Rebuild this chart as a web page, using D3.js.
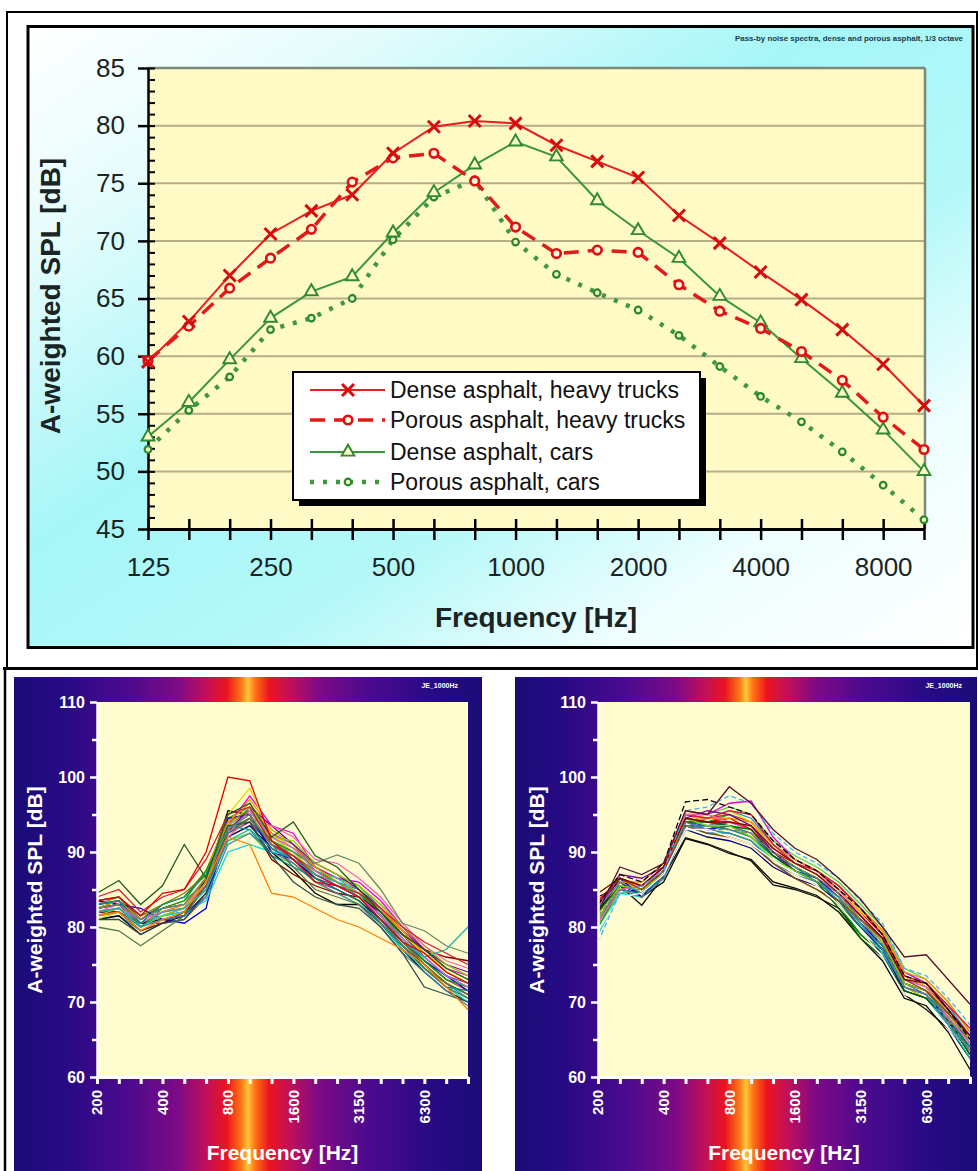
<!DOCTYPE html>
<html><head><meta charset="utf-8">
<script src="https://cdn.jsdelivr.net/npm/d3@7"></script>
<style>
body{margin:0;background:#fff}
svg{display:block}
text{font-family:Arial,"Liberation Sans",sans-serif}
</style>
</head><body>
<svg id="c" width="978" height="1171"></svg>
<script>
// ---------------- DATA ----------------
const bandsTop = ["125","160","200","250","315","400","500","630","800","1000","1250","1600","2000","2500","3150","4000","5000","6300","8000","10000"];
const xLabelsTop = ["125","250","500","1000","2000","4000","8000"];
const yTicksTop = [45,50,55,60,65,70,75,80,85];
const yMinorTop = [45,46,47,48,49,50,51,52,53,54,55,56,57,58,59,60,61,62,63,64,65,66,67,68,69,70,71,72,73,74,75,76,77,78,79,80,81,82,83,84,85];
const denseTrucks  = [59.5,63.0,67.0,70.6,72.6,74.0,77.6,79.9,80.4,80.2,78.3,76.9,75.5,72.2,69.8,67.3,64.9,62.3,59.3,55.7];
const porousTrucks = [59.6,62.6,65.9,68.5,71.0,75.1,77.2,77.6,75.2,71.2,68.9,69.2,69.0,66.2,63.9,62.4,60.4,57.9,54.7,51.9];
const denseCars    = [53.0,56.0,59.7,63.3,65.6,66.9,70.7,74.2,76.6,78.6,77.3,73.5,70.9,68.5,65.2,62.9,59.8,56.8,53.6,50.0];
const porousCars   = [51.9,55.3,58.2,62.3,63.3,65.0,70.1,73.8,75.3,69.9,67.1,65.5,64.0,61.8,59.1,56.5,54.3,51.7,48.8,45.8];
const legendLabels = ["Dense asphalt, heavy trucks","Porous asphalt, heavy trucks","Dense asphalt, cars","Porous asphalt, cars"];
const topNote = "Pass-by noise spectra, dense and porous asphalt, 1/3 octave";

const bandsBottom = ["200","250","315","400","500","630","800","1000","1250","1600","2000","2500","3150","4000","5000","6300","8000","10000"];
const xLabelsBottom = ["200","400","800","1600","3150","6300"];
const yTicksBottom = [60,70,80,90,100,110];
const yMinorBottom = [65,75,85,95,105];
const panelTag = "JE_1000Hz";

const leftSpectra = [
 [82.5,83.0,80.0,81.5,82.0,85.0,93.0,95.5,92.5,91.0,87.5,86.0,85.0,82.0,79.0,76.0,73.5,72.5],
 [81.5,82.0,80.5,80.5,81.0,84.0,92.5,94.0,91.0,89.5,86.5,85.5,84.0,81.5,78.0,75.5,73.0,71.5],
 [83.0,83.5,81.5,82.5,83.5,86.0,94.5,96.0,92.0,90.0,88.0,86.5,85.5,82.5,79.5,76.5,74.5,73.0],
 [82.0,82.0,79.5,81.0,81.5,85.5,93.0,94.5,90.5,88.5,86.0,85.0,83.5,81.0,77.5,75.0,72.5,71.0],
 [82.5,83.0,80.5,82.0,82.5,86.0,94.0,97.0,93.0,91.0,88.0,86.5,85.0,82.5,79.0,76.5,74.0,72.5],
 [81.0,81.5,79.5,80.5,81.0,84.5,92.0,93.5,91.5,90.0,87.0,85.5,84.0,81.0,77.5,74.5,72.5,70.5],
 [83.5,84.0,81.0,83.0,84.0,87.5,94.5,95.0,91.0,89.5,87.5,86.0,84.5,82.0,79.0,76.0,73.5,72.0],
 [82.0,82.5,80.0,81.5,82.0,85.0,91.5,92.5,89.5,88.5,86.0,84.5,83.0,80.5,77.0,74.5,72.0,70.5],
 [82.5,83.5,80.5,82.0,83.0,86.0,93.5,95.5,92.0,90.5,88.5,87.0,85.5,83.0,80.0,77.0,75.0,73.5],
 [81.5,82.5,80.0,81.5,82.5,85.5,92.5,94.0,91.0,89.0,86.5,85.5,84.0,81.5,78.0,75.5,73.0,72.0],
 [81.0,81.5,79.0,80.5,81.5,86.5,95.5,95.0,90.0,87.5,84.5,83.0,83.0,80.5,77.0,74.0,71.5,70.0],
 [83.5,83.0,82.5,81.0,80.5,82.5,94.5,95.0,90.0,89.0,87.0,85.5,84.5,81.5,78.5,75.5,73.5,71.5],
 [82.0,82.5,80.5,81.5,82.5,86.0,93.5,97.5,93.5,92.5,88.0,86.5,86.0,83.5,80.0,77.0,74.5,73.5],
 [81.0,82.0,79.5,81.0,82.0,87.0,95.0,98.5,92.0,90.0,87.0,86.0,84.5,82.0,79.0,76.5,74.5,73.0],
 [82.0,82.5,80.5,81.5,82.0,83.5,90.0,91.0,90.0,89.5,87.5,86.5,84.5,80.5,77.0,74.5,72.0,70.0],
 [82.5,83.5,80.0,82.5,83.5,87.5,93.0,94.5,91.5,90.0,88.0,86.0,84.5,82.0,78.5,75.5,73.0,72.0],
 [83.0,83.5,81.0,82.5,83.0,86.5,92.5,96.0,93.5,91.0,88.5,87.0,85.0,82.5,79.5,77.0,75.0,74.0],
 [82.5,83.0,80.5,81.0,81.5,84.5,92.0,93.5,90.5,89.0,86.5,85.0,83.5,81.0,78.0,75.0,72.5,71.0],
 [82.0,82.0,79.5,80.5,82.0,85.5,93.0,94.0,89.0,87.0,85.5,84.5,84.0,82.0,79.0,77.0,76.0,75.5],
 [81.5,82.5,80.0,81.5,82.5,86.0,93.5,96.0,92.0,91.5,88.5,87.0,85.5,83.0,80.0,77.5,75.0,73.5],
 [82.0,83.0,80.5,82.0,83.0,85.5,92.0,94.5,93.5,92.0,89.0,88.5,86.5,84.0,80.5,77.5,75.5,74.5],
 [83.0,84.0,81.5,83.0,84.5,87.0,94.0,95.5,91.5,89.5,87.5,86.0,84.0,81.5,78.0,75.0,72.5,71.0],
 [81.5,82.0,80.0,81.0,81.5,84.0,91.0,92.5,90.0,88.5,86.0,84.5,83.0,80.0,76.5,74.0,71.5,69.5],
 [82.5,83.5,81.0,82.0,83.0,86.5,94.0,96.5,92.5,90.5,88.0,86.0,84.5,82.5,79.5,76.5,74.0,72.5],
 [83.0,83.5,80.5,83.0,84.0,87.0,93.5,93.0,89.5,88.0,86.5,85.0,83.5,80.5,77.5,74.5,72.0,71.5],
 [82.0,82.5,81.0,82.0,82.5,85.0,92.5,95.5,92.0,90.5,87.5,85.5,84.0,81.5,78.5,76.0,73.5,72.0],
 [84.0,85.0,82.0,84.0,85.0,89.0,95.0,96.0,91.0,89.5,87.0,85.5,84.5,82.5,80.0,78.0,76.5,75.0],
 [81.0,81.0,79.0,80.5,81.0,84.5,93.5,94.0,89.5,86.0,84.0,83.0,82.5,80.0,76.5,72.0,71.0,70.0],
 [80.0,79.5,77.5,79.5,81.5,85.5,92.5,94.5,91.0,88.0,85.0,84.0,83.0,80.5,77.5,74.5,72.0,70.5],
 [82.5,83.0,81.0,82.5,83.0,86.5,93.0,95.0,91.0,90.0,88.5,89.6,88.5,85.0,80.5,79.5,77.5,76.5],
 [82.0,82.5,80.0,82.0,82.5,85.0,91.5,93.0,90.5,89.0,87.0,86.0,84.0,81.0,78.0,76.0,77.0,80.0],
 [81.5,82.0,79.5,81.0,82.0,86.0,92.0,91.0,84.5,84.0,82.5,81.0,80.0,78.5,77.0,75.0,72.0,69.0],
 [84.5,86.2,83.0,85.5,91.0,86.5,95.0,96.5,92.0,94.0,89.5,88.0,85.0,82.0,79.0,77.0,74.5,73.0],
 [83.5,84.0,81.5,84.5,85.0,90.0,100.0,99.5,91.5,89.0,86.0,85.5,84.0,81.0,78.0,76.5,74.0,72.5]
];
const rightSpectra = [
 [82.0,86.0,85.0,87.0,94.0,93.5,94.0,93.0,90.0,88.0,86.5,84.5,81.5,78.5,73.0,72.0,68.5,64.5],
 [81.0,85.5,84.5,87.5,95.0,94.5,95.0,94.0,90.5,88.5,87.0,85.0,82.0,79.0,73.5,72.0,69.0,65.0],
 [82.5,86.5,85.5,88.0,94.5,93.5,93.5,92.5,89.5,87.5,86.0,84.0,80.5,77.5,72.0,71.0,67.5,63.5],
 [80.5,85.0,84.0,86.5,93.5,93.0,94.0,93.0,90.0,88.0,86.5,84.5,81.0,78.0,72.5,71.5,68.0,64.0],
 [83.0,86.0,85.5,87.5,95.0,94.0,93.0,92.0,89.0,87.0,85.5,83.5,80.5,77.0,72.0,70.5,67.5,63.0],
 [81.5,86.0,85.0,87.0,94.0,94.5,95.5,94.5,91.0,89.0,87.5,85.5,82.5,79.5,74.0,72.5,69.5,65.5],
 [82.0,85.5,84.5,87.0,93.5,92.5,92.5,91.5,88.5,86.5,85.0,83.0,80.0,77.0,71.5,70.5,67.0,62.5],
 [80.0,84.5,85.0,87.5,95.0,95.0,96.0,95.0,91.5,89.5,88.0,86.0,83.0,80.0,74.5,73.0,70.0,66.0],
 [82.5,86.5,85.0,87.5,94.5,94.0,94.0,93.0,90.0,88.0,86.5,84.5,81.5,78.0,72.5,71.5,68.0,64.0],
 [81.0,85.0,84.5,86.5,93.5,93.5,93.5,92.5,89.5,87.5,86.0,84.0,81.0,77.5,72.5,71.0,67.5,63.5],
 [82.0,86.0,84.0,86.0,91.8,91.0,89.8,89.0,86.0,85.2,84.2,82.0,78.5,75.5,70.5,69.5,66.0,61.0],
 [84.0,85.5,82.9,86.7,91.9,91.1,90.0,88.8,85.6,85.0,84.0,82.5,79.0,76.5,71.0,69.0,66.5,62.5],
 [83.5,86.0,85.0,87.5,94.5,94.0,94.5,93.0,90.0,88.5,87.5,85.0,82.0,79.0,73.5,72.0,68.5,65.0],
 [81.0,85.5,84.5,87.0,94.0,93.0,93.5,92.0,89.5,87.5,86.5,84.0,80.5,77.5,72.0,71.0,67.5,64.0],
 [80.0,85.0,85.5,87.5,94.5,94.0,95.0,93.5,90.0,88.0,86.5,83.0,79.0,77.0,72.5,71.5,68.0,63.5],
 [82.5,86.5,85.5,88.0,95.5,95.0,96.5,96.8,92.0,89.0,87.5,85.5,82.5,79.5,74.0,72.5,69.0,65.5],
 [79.0,84.5,84.0,86.5,93.5,92.5,92.5,91.5,89.0,87.5,86.0,84.0,80.5,76.5,71.5,70.5,67.0,62.5],
 [81.5,86.0,85.0,87.0,95.5,94.5,95.5,94.0,90.5,88.5,87.0,85.0,82.0,79.5,73.5,72.0,68.5,64.0],
 [82.0,86.5,84.0,87.0,93.0,92.0,91.5,90.5,88.0,86.5,85.5,83.5,80.0,77.0,71.5,70.5,67.5,63.0],
 [82.5,86.0,86.0,88.5,94.0,94.5,94.5,94.0,91.0,89.0,87.5,85.5,82.5,79.5,74.0,73.0,70.0,66.0],
 [80.5,85.0,84.5,86.5,93.5,93.5,93.0,92.0,89.5,88.0,86.0,83.5,80.0,77.5,72.0,71.0,68.0,64.0],
 [83.0,87.0,86.5,88.0,94.5,95.5,95.0,93.5,90.0,87.5,86.0,84.0,81.0,78.0,72.5,71.5,68.5,65.0],
 [82.0,85.5,85.0,87.5,94.0,94.0,93.5,93.0,89.5,87.5,86.0,82.5,78.5,76.0,71.5,70.5,67.5,63.0],
 [83.5,86.5,85.5,88.0,95.0,94.5,95.5,95.0,91.0,88.5,87.5,85.5,82.5,79.0,73.5,72.5,69.5,66.5],
 [81.0,85.5,85.0,87.0,94.5,93.5,93.5,92.0,89.0,87.5,86.0,84.0,81.0,78.0,72.5,71.5,68.5,65.0],
 [80.5,85.0,85.5,87.5,95.0,95.0,94.0,93.5,90.5,88.5,87.0,85.0,81.5,78.5,73.0,72.0,68.0,64.5],
 [82.5,86.0,84.5,87.0,94.0,93.0,92.5,91.5,88.5,87.0,86.0,84.0,80.5,77.0,72.0,71.0,67.0,63.5],
 [83.0,86.5,85.0,87.5,93.5,92.5,92.0,91.0,88.5,86.5,85.0,83.5,81.0,78.5,73.0,71.5,68.5,65.5],
 [84.5,86.5,85.5,88.0,94.5,94.0,94.0,93.5,90.5,88.5,87.0,84.5,81.5,78.5,73.0,72.5,69.0,65.5],
 [81.5,85.0,84.0,86.5,93.5,93.0,93.0,92.5,90.0,88.0,86.5,84.5,81.0,77.5,72.0,71.0,67.5,63.5],
 [79.5,84.0,84.5,87.0,93.0,93.0,92.0,91.0,89.0,87.0,85.5,83.0,79.5,76.0,71.0,70.0,66.5,62.0],
 [78.0,84.5,85.5,87.5,95.5,96.0,97.5,96.5,92.5,90.0,88.5,86.5,83.5,80.5,74.5,73.5,70.5,67.0],
 [83.0,87.0,86.0,88.5,96.7,97.0,96.0,95.0,91.5,89.0,87.5,85.0,82.5,79.0,73.5,72.5,69.0,65.0],
 [82.0,88.0,87.0,88.5,95.5,95.0,98.7,96.5,93.0,90.5,89.0,86.5,83.7,80.0,76.0,76.3,73.0,69.7]
];

// ---------------- STYLES ----------------
const extraColors = ["#3050c0","#c03030","#30a060","#a03090","#d0a000","#2090d0","#705030","#50d050","#e05080","#6060a0"];
const leftColors = extraColors.concat(["#000000","#0000e0","#e000e0","#e8d800","#00d8e0","#00a800","#8000a0","#000080","#800000","#80e000","#ff60b0","#808000","#4682b4","#ff8c00","#008b8b","#c070e0","#dc143c","#2f4f4f","#507850","#6a8a6a","#20b0a0","#ff7f00","#205a20","#e00000"]);
const rightColors = extraColors.concat(["#000000","#101010","#e00000","#0000e0","#00a800","#e000e0","#00d0e0","#e8d800","#000080","#ff8c00","#008b8b","#8000a0","#006400","#dc143c","#80e000","#ff60b0","#4682b4","#8b4513","#800000","#808080","#ffffff","#40b0ff","#000000","#5a1030"]);
const rightDash = [null,null,null,null,null,null,null,null,null,null,
  null,null,null,null,null,null,null,null,null,null,null,null,null,null,null,null,null,null,null,"5 3",null,"5 3","6 3",null];
const FONT = "Arial, 'Liberation Sans', sans-serif";

const svg = d3.select("#c");
const defs = svg.append("defs");

const cg = defs.append("linearGradient").attr("id","cyanBg").attr("x1",0).attr("y1",0).attr("x2",1).attr("y2",1);
[[0,"#ffffff"],[0.18,"#e6fcfc"],[0.42,"#a6f6f8"],[0.62,"#b4f8f8"],[0.8,"#eefefe"],[1,"#ffffff"]]
 .forEach(s=>cg.append("stop").attr("offset",s[0]).attr("stop-color",s[1]));

const hg = defs.append("linearGradient").attr("id","heatBg").attr("x1",0).attr("y1",0).attr("x2",1).attr("y2",0);
[[0,"#1a0c76"],[0.1,"#260a84"],[0.24,"#4a0a8e"],[0.35,"#7e0a86"],[0.41,"#c0105a"],[0.455,"#ec1420"],[0.485,"#ff7414"],[0.5,"#ffc63a"],[0.515,"#ff7414"],[0.545,"#ec1420"],[0.59,"#c0105a"],[0.65,"#7e0a86"],[0.76,"#4a0a8e"],[0.9,"#260a84"],[1,"#1a0c76"]]
 .forEach(s=>hg.append("stop").attr("offset",s[0]).attr("stop-color",s[1]));

// ---------------- TOP CHART ----------------
const gTop = svg.append("g");
gTop.append("rect").attr("x",7).attr("y",12).attr("width",970).attr("height",656)
  .attr("fill","none").attr("stroke","#000").attr("stroke-width",2);
gTop.append("rect").attr("x",28).attr("y",26.5).attr("width",945).attr("height",621)
  .attr("fill","url(#cyanBg)").attr("stroke","#000").attr("stroke-width",3);

const xT = d3.scalePoint().domain(bandsTop).range([148,924]);
const yT = d3.scaleLinear().domain([45,85]).range([529,68]);

gTop.append("rect").attr("x",148).attr("y",yT(85)).attr("width",777).attr("height",yT(45)-yT(85)).attr("fill","#fffac6");

gTop.append("g").selectAll("line").data(yTicksTop.filter(v=>v>45)).join("line")
  .attr("x1",148).attr("x2",925).attr("y1",d=>yT(d)).attr("y2",d=>yT(d))
  .attr("stroke",d=>d===85?"#7c8878":"#b6ae86").attr("stroke-width",d=>d===85?2.5:2);
gTop.append("line").attr("x1",925).attr("x2",925).attr("y1",yT(85)).attr("y2",yT(45))
  .attr("stroke","#7c8878").attr("stroke-width",2.5);

const yAx = gTop.append("g").attr("transform","translate(148,0)")
  .call(d3.axisLeft(yT).tickValues(yTicksTop).tickSize(10).tickSizeOuter(0).tickPadding(13));
yAx.attr("font-size",26).attr("font-family",FONT);
yAx.selectAll("text").attr("fill","#1a2424");
yAx.selectAll("line").attr("stroke","#000").attr("stroke-width",2.5);
yAx.select(".domain").attr("stroke","#000").attr("stroke-width",2.5);
const yMin = gTop.append("g").attr("transform","translate(148,0)")
  .call(d3.axisRight(yT).tickValues(yMinorTop).tickSize(7).tickSizeOuter(0).tickFormat(""));
yMin.selectAll("line").attr("stroke","#000").attr("stroke-width",2);
yMin.select(".domain").remove();

const xAx = gTop.append("g").attr("transform","translate(0,529)")
  .call(d3.axisBottom(xT).tickValues(bandsTop).tickSize(11).tickSizeOuter(0).tickPadding(18)
    .tickFormat(d=>xLabelsTop.includes(d)?d:""));
xAx.attr("font-size",26).attr("font-family",FONT);
xAx.selectAll("text").attr("fill","#1a2424");
xAx.selectAll("line").attr("stroke","#000").attr("stroke-width",2.5);
xAx.select(".domain").attr("stroke","#000").attr("stroke-width",3);
const xUp = gTop.append("g").attr("transform","translate(0,529)")
  .call(d3.axisTop(xT).tickValues(bandsTop).tickSize(10).tickSizeOuter(0).tickFormat(""));
xUp.selectAll("line").attr("stroke","#000").attr("stroke-width",2.5);
xUp.select(".domain").remove();

gTop.append("text").attr("transform","translate(60,296) rotate(-90)").attr("text-anchor","middle")
  .attr("font-size",28).attr("font-weight","bold").attr("fill","#1a2424").text("A-weighted SPL [dB]");
gTop.append("text").attr("x",536).attr("y",627).attr("text-anchor","middle")
  .attr("font-size",28).attr("font-weight","bold").attr("fill","#1a2424").text("Frequency [Hz]");
gTop.append("text").attr("x",963).attr("y",41).attr("text-anchor","end")
  .attr("font-size",7).attr("font-weight","bold").attr("fill","#1d3a4a")
  .attr("textLength",228).attr("lengthAdjust","spacingAndGlyphs").text(topNote);

const lineT = d3.line().x((d,i)=>xT(bandsTop[i])).y(d=>yT(d));
const series = [
 {data:porousCars,  color:"#3f973f", width:4.5, dash:"4 9",  marker:"pc"},
 {data:denseCars,   color:"#3a963a", width:2,   dash:null,   marker:"tri"},
 {data:porousTrucks,color:"#e21a1a", width:3.5, dash:"15 9", marker:"circ"},
 {data:denseTrucks, color:"#ec1c1c", width:2,   dash:null,   marker:"x"}
];
const triPath = d3.symbol(d3.symbolTriangle, 70)();
function drawMarker(sel, type){
  if(type==="x"){
    sel.append("path").attr("d","M-6,-6L6,6M-6,6L6,-6").attr("stroke","#d80c0c").attr("stroke-width",3).attr("fill","none");
  } else if(type==="circ"){
    sel.append("circle").attr("r",4.3).attr("fill","#fff6d8").attr("stroke","#de1010").attr("stroke-width",2.6);
  } else if(type==="tri"){
    sel.append("path").attr("d",triPath).attr("fill","#fdf6c8").attr("stroke","#2f8a2f").attr("stroke-width",1.9);
  } else {
    sel.append("circle").attr("r",3.3).attr("fill","#f2f6c0").attr("stroke","#2c862c").attr("stroke-width",2.2);
  }
}
series.forEach(s=>{
  gTop.append("path").attr("d",lineT(s.data)).attr("fill","none").attr("stroke",s.color)
    .attr("stroke-width",s.width).attr("stroke-dasharray",s.dash);
  gTop.append("g").selectAll("g").data(s.data).join("g")
    .attr("transform",(d,i)=>`translate(${xT(bandsTop[i])},${yT(d)})`)
    .each(function(){ drawMarker(d3.select(this), s.marker); });
});

const lg = gTop.append("g");
lg.append("rect").attr("x",299).attr("y",378).attr("width",407).attr("height",128).attr("fill","#000");
lg.append("rect").attr("x",293).attr("y",372).attr("width",407).attr("height",128).attr("fill","#fff").attr("stroke","#000").attr("stroke-width",2);
const legOrder = [series[3],series[2],series[1],series[0]];
const legY = [390,420,452,482];
legOrder.forEach((s,i)=>{
  lg.append("line").attr("x1",310).attr("x2",385).attr("y1",legY[i]).attr("y2",legY[i])
    .attr("stroke",s.color).attr("stroke-width",s.width).attr("stroke-dasharray",s.dash);
  const m = lg.append("g").attr("transform",`translate(348,${legY[i]})`);
  drawMarker(m, s.marker);
  lg.append("text").attr("x",390).attr("y",legY[i]+8).attr("font-size",23).attr("fill","#111").text(legendLabels[i]);
});

// ---------------- BOTTOM CHARTS ----------------
svg.append("line").attr("x1",3).attr("x2",978).attr("y1",668.5).attr("y2",668.5).attr("stroke","#000").attr("stroke-width",3);
svg.append("line").attr("x1",5).attr("x2",5).attr("y1",668).attr("y2",1171).attr("stroke","#000").attr("stroke-width",2.5);

function spectrumPanel(o){
  const g = svg.append("g");
  g.append("rect").attr("x",o.px).attr("y",677).attr("width",o.pw).attr("height",494).attr("fill","url(#heatBg)");
  const x = d3.scalePoint().domain(bandsBottom).range([o.x0,o.x1]);
  const y = d3.scaleLinear().domain([60,110]).range([1077,702]);
  g.append("rect").attr("x",o.x0).attr("y",y(110)).attr("width",o.x1-o.x0).attr("height",y(60)-y(110)).attr("fill","#fffdd0");
  const line = d3.line().x((d,i)=>x(bandsBottom[i])).y(d=>y(d));
  g.append("g").selectAll("path").data(o.data).join("path")
    .attr("d",d=>line(d)).attr("fill","none")
    .attr("stroke",(d,i)=>o.colors[i]).attr("stroke-width",1.3)
    .attr("stroke-dasharray",(d,i)=>o.dash?o.dash[i]:null);
  const ya = g.append("g").attr("transform",`translate(${o.x0},0)`)
    .call(d3.axisLeft(y).tickValues(yTicksBottom).tickSize(7).tickSizeOuter(0).tickPadding(5));
  ya.attr("font-size",16).attr("font-family",FONT).attr("font-weight","bold");
  ya.selectAll("text").attr("fill","#fff");
  ya.selectAll("line").attr("stroke","#fff").attr("stroke-width",2.5);
  ya.select(".domain").attr("stroke","#fff").attr("stroke-width",2.5);
  const ym = g.append("g").attr("transform",`translate(${o.x0},0)`)
    .call(d3.axisLeft(y).tickValues(yMinorBottom).tickSize(5).tickSizeOuter(0).tickFormat(""));
  ym.selectAll("line").attr("stroke","#fff").attr("stroke-width",2.5);
  ym.select(".domain").remove();
  const xa = g.append("g").attr("transform","translate(0,1077)")
    .call(d3.axisBottom(x).tickValues(bandsBottom).tickSize(7).tickSizeOuter(0).tickFormat(""));
  xa.selectAll("line").attr("stroke","#fff").attr("stroke-width",3);
  xa.select(".domain").attr("stroke","#fff").attr("stroke-width",3);
  g.append("g").selectAll("text").data(xLabelsBottom).join("text")
    .attr("transform",d=>`translate(${x(d)},1090) rotate(-90)`)
    .attr("text-anchor","end").attr("dy","0.36em")
    .attr("font-size",15).attr("font-weight","bold").attr("fill","#fff").text(d=>d);
  g.append("text").attr("transform",`translate(${o.yTitleX},890) rotate(-90)`).attr("text-anchor","middle")
    .attr("font-size",21).attr("font-weight","bold").attr("fill","#fff").text("A-weighted SPL [dB]");
  g.append("text").attr("x",(o.x0+o.x1)/2).attr("y",1160).attr("text-anchor","middle")
    .attr("font-size",21).attr("font-weight","bold").attr("fill","#fff").text("Frequency [Hz]");
  g.append("text").attr("x",o.tagX).attr("y",688).attr("text-anchor","end")
    .attr("font-size",7).attr("font-weight","bold").attr("fill","#fff").text(panelTag);
}
spectrumPanel({px:14, pw:468, x0:97, x1:468, data:leftSpectra, colors:leftColors, dash:null, yTitleX:42, tagX:458});
spectrumPanel({px:515, pw:462, x0:598, x1:970, data:rightSpectra, colors:rightColors, dash:rightDash, yTitleX:544, tagX:962});
</script>
</body></html>
